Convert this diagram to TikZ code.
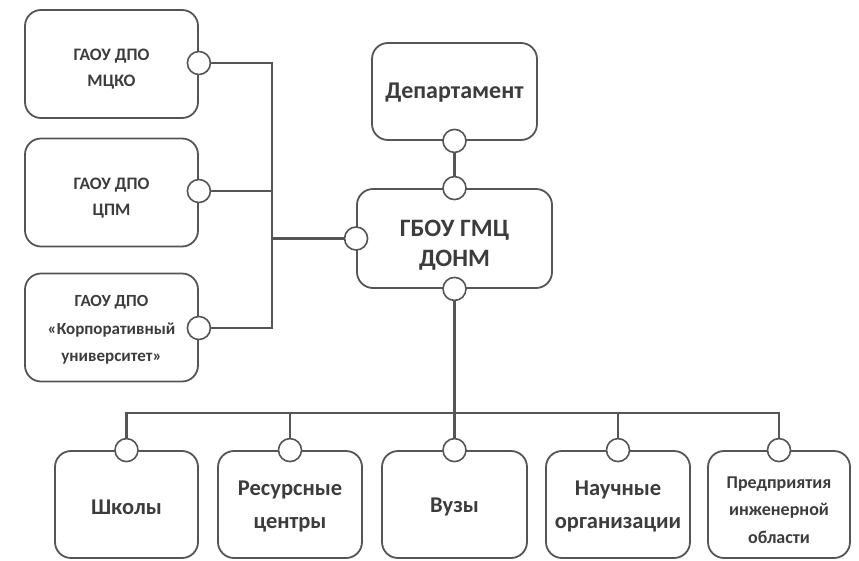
\documentclass[tikz,border=0pt]{standalone}
\usepackage{fontspec}
\setmainfont{Carlito}
\begin{document}
\begin{tikzpicture}[x=1pt,y=-1pt,
  box/.style={draw=linegray,line width=1.8pt,rounded corners=16pt,fill=white,inner sep=0pt},
  lbl/.style={inner sep=0pt,align=center,text=textgray,font=\bfseries},
  port/.style={circle,draw=linegray,line width=1.6pt,fill=white,minimum size=23pt,inner sep=0pt},
  link/.style={draw=linegray,line width=2.2pt},
  lefttext/.style={font=\bfseries\fontsize{17.5}{26}\selectfont},
  bottext/.style={font=\bfseries\fontsize{22.5}{33}\selectfont}]
\definecolor{linegray}{HTML}{555555}
\definecolor{textgray}{HTML}{3C3C3C}
\useasboundingbox[fill=white] (0,0) rectangle (859,560);
% left boxes
\node[box,minimum width=173pt,minimum height=108pt] (mcko) at (111.5,64) {};
\node[box,minimum width=173pt,minimum height=108pt] (cpm) at (111.5,192.5) {};
\node[box,minimum width=173pt,minimum height=108pt] (ku) at (111.5,327.5) {};
\node[lbl,lefttext] (mckot) at (111.5,69.5) {ГАОУ ДПО\\МЦКО};
\node[lbl,lefttext] (cpmt) at (111.5,198) {ГАОУ ДПО\\ЦПМ};
\node[lbl,font=\bfseries\fontsize{17}{27.5}\selectfont] (kut) at (111.5,330) {ГАОУ ДПО\\«Корпоративный\\университет»};
% center
\node[box,minimum width=165pt,minimum height=97pt] (dep) at (454.5,91.5) {};
\node[lbl,font=\bfseries\fontsize{24}{30}\selectfont] (dept) at (454.5,93) {Департамент};
\node[box,minimum width=195pt,minimum height=99pt] (gbou) at (454.5,238.5) {};
\node[lbl,font=\bfseries\fontsize{25}{30}\selectfont] (gbout) at (454.5,245) {ГБОУ ГМЦ\\ДОНМ};
% bottom boxes
\node[box,minimum width=143pt,minimum height=107pt] (sch) at (126.5,504.5) {};
\node[box,minimum width=144pt,minimum height=107pt] (res) at (290,504.5) {};
\node[box,minimum width=145pt,minimum height=107pt] (vuz) at (454.5,504.5) {};
\node[box,minimum width=144pt,minimum height=107pt] (nauch) at (618,504.5) {};
\node[box,minimum width=142pt,minimum height=107pt] (pred) at (779,504.5) {};
\node[lbl,bottext] (scht) at (126.5,507) {Школы};
\node[lbl,bottext] (rest) at (290,507) {Ресурсные\\центры};
\node[lbl,bottext] (vuzt) at (454.5,507) {Вузы};
\node[lbl,bottext] (naucht) at (618,507) {Научные\\организации};
\node[lbl,font=\bfseries\fontsize{18}{27.5}\selectfont] (predt) at (779,510) {Предприятия\\инженерной\\области};
% ports
\node[port] (pmcko) at (mcko.east |- 0,63) {};
\node[port] (pcpm) at (cpm.east |- 0,191) {};
\node[port] (pku) at (ku.east |- 0,328) {};
\node[port] (pdep) at (dep.south) {};
\node[port] (pgtop) at (gbou.north) {};
\node[port] (pgleft) at (gbou.west) {};
\node[port] (pgbot) at (gbou.south) {};
\node[port] (psch) at (sch.north) {};
\node[port] (pres) at (res.north) {};
\node[port] (pvuz) at (vuz.north) {};
\node[port] (pnauch) at (nauch.north) {};
\node[port] (ppred) at (pred.north) {};
% connectors
\coordinate (bus) at (272,0);
\coordinate (hb) at (0,413);
\draw[link] (pmcko) -- (pmcko -| bus) -- (pku -| bus) -- (pku);
\draw[link] (pcpm) -- (pcpm -| bus);
\draw[link] (pgleft -| bus) -- (pgleft);
\draw[link] (pdep) -- (pgtop);
\draw[link] (pgbot) -- (pgbot |- hb);
\draw[link] (psch) -- (psch |- hb) -- (ppred |- hb) -- (ppred);
\draw[link] (pres) -- (pres |- hb);
\draw[link] (pvuz) -- (pvuz |- hb);
\draw[link] (pnauch) -- (pnauch |- hb);
\end{tikzpicture}
\end{document}
